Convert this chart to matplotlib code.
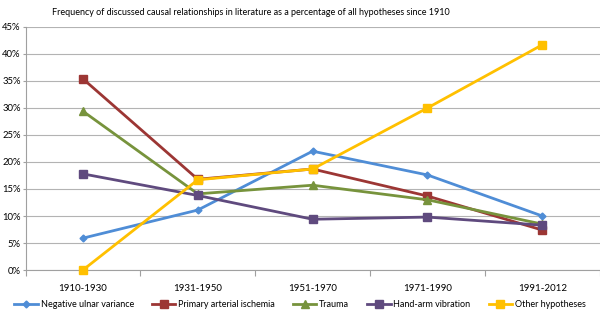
import matplotlib.pyplot as plt
import numpy as np
from matplotlib.ticker import FuncFormatter

periods = ['1910-1930', '1931-1950', '1951-1970', '1971-1990', '1991-2012']
ulnar = [5.9, 11.1, 22.0, 17.6, 10.0]
ischemia = [35.4, 16.8, 18.7, 13.7, 7.4]
trauma = [29.4, 14.1, 15.7, 13.0, 8.5]
vibration = [17.8, 13.8, 9.4, 9.8, 8.3]
other = [0.0, 16.7, 18.7, 30.0, 41.7]

plt.rcParams['font.family'] = ['Lato', 'DejaVu Sans']

fig = plt.figure(figsize=(6.0, 3.1), dpi=100)
ax = fig.add_axes([0.0425, 0.129, 0.957, 0.784])

x = np.arange(len(periods))
series = [
    ('Negative ulnar variance', ulnar, '#4F8DD6', 'D', 3.5),
    ('Primary arterial ischemia', ischemia, '#9C3634', 's', 5.5),
    ('Trauma', trauma, '#77933C', '^', 5.5),
    ('Hand-arm vibration', vibration, '#5F4A7E', 's', 5.5),
    ('Other hypotheses', other, '#FFC000', 's', 5.5),
]
for name, vals, col, mk, ms in series:
    ax.plot(x, vals, color=col, linewidth=2, marker=mk, markersize=ms,
            label=name, clip_on=False, zorder=3)

ax.set_xlim(-0.5, len(periods) - 0.5)
ax.set_ylim(0, 45)
ax.set_yticks(np.arange(0, 46, 5))
ax.yaxis.set_major_formatter(FuncFormatter(lambda v, p: f'{int(v)}%'))
ax.set_xticks(x)
ax.set_xticklabels(periods)
ax.set_xticks(np.arange(-0.5, len(periods), 1), minor=True)
ax.tick_params(axis='x', which='major', length=0, labelsize=7, pad=10)
ax.tick_params(axis='x', which='minor', length=4, color='#A0A0A0', width=0.8)
ax.tick_params(axis='y', length=2.5, color='#A0A0A0', width=0.8, labelsize=6.8, pad=1)
ax.grid(axis='y', color='#B3B3B3', linewidth=0.8)
ax.set_axisbelow(True)
for s in ['top', 'right']:
    ax.spines[s].set_visible(False)
for s in ['left', 'bottom']:
    ax.spines[s].set_color('#A0A0A0')
    ax.spines[s].set_linewidth(0.8)

fig.text(0.087, 0.96, 'Frequency of discussed causal relationships in literature as a percentage of all hypotheses since 1910',
         fontsize=6.5, ha='left', va='center')

fig.legend(loc='center', bbox_to_anchor=(0.5, 0.017), ncol=5, frameon=False,
           fontsize=6.5, handlelength=2.6, columnspacing=2.0, handletextpad=0.3)

fig.savefig('out.png', dpi=100)
